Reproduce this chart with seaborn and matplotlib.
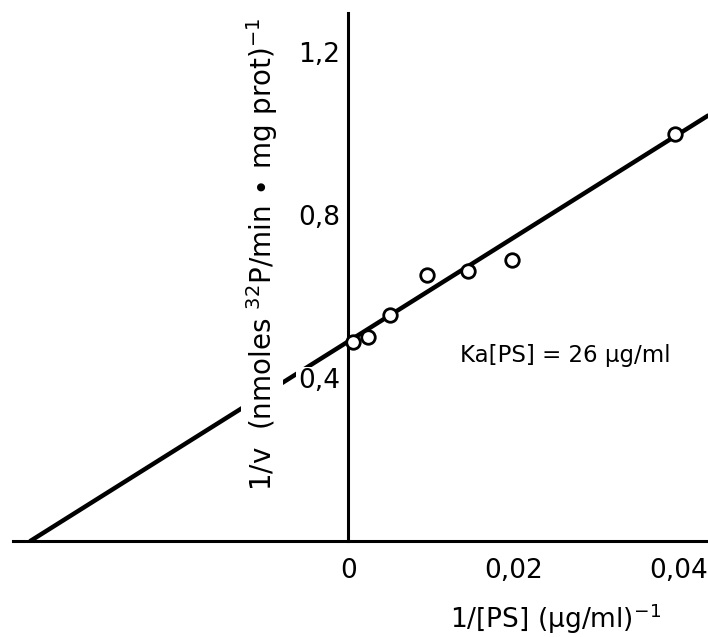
import matplotlib
matplotlib.use("Agg")
import matplotlib.pyplot as plt
import seaborn as sns
import pandas as pd

# measured points: 1/[PS] vs 1/v
inv_ps = [0.0006, 0.0024, 0.0051, 0.0096, 0.0145, 0.0198, 0.0396]
inv_v = [0.488, 0.500, 0.555, 0.653, 0.663, 0.690, 0.999]

# fitted line (Lineweaver-Burk), drawn between its x-intercept and the right edge
line_x = [-0.0385, 0.0436]
line_y = [0.0, 1.044]

xticks = [0, 0.02, 0.04]
xtick_labels = ["0", "0,02", "0,04"]
yticks = [0.4, 0.8, 1.2]
ytick_labels = ["0,4", "0,8", "1,2"]

sns.set_style("white")
plt.rcParams["font.family"] = ["DejaVu Sans"]
plt.rcParams["text.color"] = "black"

fig = plt.figure(figsize=(7.08, 6.37), dpi=100)
ax = fig.add_axes([0.0184, 0.1507, 0.9816, 0.829])

pts = pd.DataFrame({"x": inv_ps, "y": inv_v})
fit = pd.DataFrame({"x": line_x, "y": line_y})

sns.lineplot(data=fit, x="x", y="y", ax=ax, color="black", linewidth=3.2, zorder=2)
sns.scatterplot(data=pts, x="x", y="y", ax=ax, s=95, facecolor="white",
                edgecolor="black", linewidth=2, zorder=4)

ax.set_xlim(-0.0406, 0.0436)
ax.set_ylim(0, 1.296)

for s in ["top", "right"]:
    ax.spines[s].set_visible(False)
ax.spines["left"].set_position(("data", 0))
ax.spines["bottom"].set_position(("data", 0))
for s in ["left", "bottom"]:
    ax.spines[s].set_linewidth(2.2)
    ax.spines[s].set_color("black")

ax.set_xticks(xticks)
ax.set_xticklabels(xtick_labels)
ax.set_yticks(yticks)
ax.set_yticklabels(ytick_labels)
ax.tick_params(axis="both", direction="in", length=10, width=2, color="black",
               labelsize=19, labelcolor="black")
ax.tick_params(axis="x", pad=12)
ax.tick_params(axis="y", pad=6)

for t in ax.get_yticklabels():
    t.set_bbox(dict(facecolor="white", edgecolor="none", pad=1))
ax.yaxis.set_zorder(5)

ax.set_xlabel("")
ax.set_ylabel("")

ax.text(0.358, 0.542, r"1/v  (nmoles $^{32}$P/min$\,\bullet\,$mg prot)$^{-1}$",
        transform=ax.transAxes, rotation=90, ha="center", va="center",
        fontsize=20, color="black", zorder=6,
        bbox=dict(facecolor="white", edgecolor="none", pad=2))

ax.text(0.78, -0.148, r"1/[PS] (µg/ml)$^{-1}$", transform=ax.transAxes,
        ha="center", va="center", fontsize=19, color="black", clip_on=False)

ax.text(0.0136, 0.456, "Ka[PS] = 26 µg/ml", ha="left", va="center",
        fontsize=16.5, color="black")

fig.savefig("out.png", dpi=100)
